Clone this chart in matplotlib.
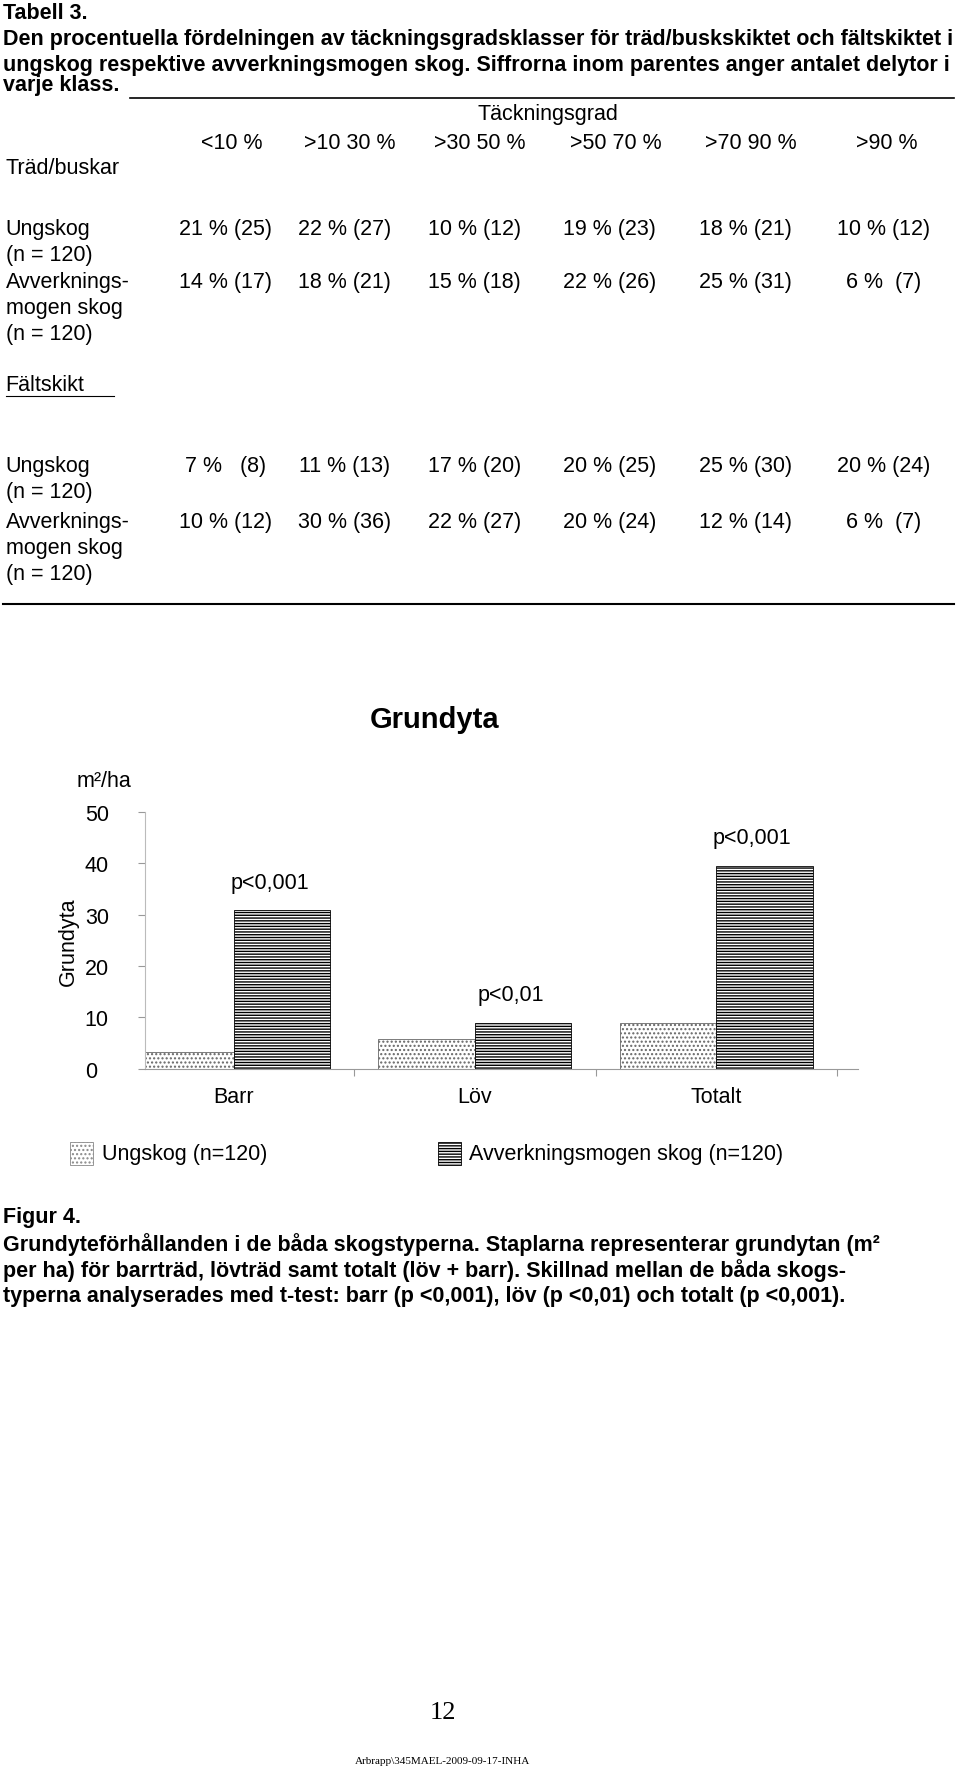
import matplotlib

matplotlib.use("Agg")
import matplotlib.pyplot as plt
import numpy as np
from matplotlib.patches import Rectangle

plt.rcParams["font.family"] = "Liberation Sans"
plt.rcParams["hatch.linewidth"] = 1.0

# data
categories = ["Barr", "Löv", "Totalt"]
ungskog = [3.2, 5.8, 8.9]
avverk = [30.8, 8.8, 39.5]
p_labels = ["p<0,001", "p<0,01", "p<0,001"]
yticks = [0, 10, 20, 30, 40, 50]

col_heads = ["<10 %", ">10 30 %", ">30 50 %", ">50 70 %", ">70 90 %", ">90 %"]
trad_ung = ["21 % (25)", "22 % (27)", "10 % (12)", "19 % (23)", "18 % (21)", "10 % (12)"]
trad_avv = ["14 % (17)", "18 % (21)", "15 % (18)", "22 % (26)", "25 % (31)", "6 %  (7)"]
falt_ung = ["7 %   (8)", "11 % (13)", "17 % (20)", "20 % (25)", "25 % (30)", "20 % (24)"]
falt_avv = ["10 % (12)", "30 % (36)", "22 % (27)", "20 % (24)", "12 % (14)", "6 %  (7)"]

W, H = 850.0, 1569.0
FS = 15.5
fig = plt.figure(figsize=(9.6, 17.74), dpi=100)


def X(x):
    return x / W


def Y(y):
    return 1 - y / H


def txt(x, y, s, **kw):
    kw.setdefault("fontsize", FS)
    kw.setdefault("va", "center")
    fig.text(X(x), Y(y), s, **kw)


def hline(x0, x1, y, lw=1.2):
    fig.add_artist(plt.Line2D([X(x0), X(x1)], [Y(y), Y(y)], color="black", lw=lw))


txt(3, 12, "Tabell 3.", weight="bold")
txt(3, 35, "Den procentuella fördelningen av täckningsgradsklasser för träd/buskskiktet och fältskiktet i", weight="bold")
txt(3, 58, "ungskog respektive avverkningsmogen skog. Siffrorna inom parentes anger antalet delytor i", weight="bold")
txt(3, 76, "varje klass.", weight="bold")
hline(115, 845, 88)
txt(485, 101, "Täckningsgrad", ha="center")
col_x = [205, 310, 425, 545, 665, 785]
for cx, h in zip(col_x, col_heads):
    txt(cx, 127, h, ha="center")
txt(5, 149, "Träd/buskar")
txt(5, 203, "Ungskog")
txt(5, 226, "(n = 120)")
txt(5, 250, "Avverknings-")
txt(5, 273, "mogen skog")
txt(5, 296, "(n = 120)")
val_x = [200, 305, 420, 540, 660, 782]
for cx, a, b in zip(val_x, trad_ung, trad_avv):
    txt(cx, 203, a, ha="center")
    txt(cx, 250, b, ha="center")
txt(5, 341, "Fältskikt")
hline(5, 101, 351, lw=0.8)
txt(5, 413, "Ungskog")
txt(5, 436, "(n = 120)")
txt(5, 462, "Avverknings-")
txt(5, 485, "mogen skog")
txt(5, 508, "(n = 120)")
for cx, a, b in zip(val_x, falt_ung, falt_avv):
    txt(cx, 413, a, ha="center")
    txt(cx, 462, b, ha="center")
hline(3, 845, 535, lw=1.5)

# chart
txt(385, 637, "Grundyta", ha="center", fontsize=21, weight="bold")
txt(92, 691, "m²/ha", ha="center")
ax = fig.add_axes([X(128), Y(946), X(760) - X(128), Y(719) - Y(946)])
x = np.arange(len(categories))
w = 0.4
ax.bar(x - w / 2, ungskog, w, facecolor="white", edgecolor="#666666", hatch="....", lw=0.6)
ax.bar(x + w / 2, avverk, w, facecolor="white", edgecolor="black", hatch="------", lw=0.6)
for xi, v, p in zip(x, avverk, p_labels):
    ax.text(xi + w / 2 - 0.05, v + 3.5, p, ha="center", va="bottom", fontsize=FS)
ax.set_xlim(-0.37, 2.59)
ax.set_ylim(0, 50)
ax.set_yticks(yticks)
ax.set_yticklabels([str(t) for t in yticks], fontsize=FS)
ax.set_xticks([0.5, 1.5, 2.5])
ax.set_xticklabels([])
ax.tick_params(axis="x", length=5, color="#999999")
ax.tick_params(axis="y", length=5, color="#999999", pad=38)
for lbl in ax.get_yticklabels():
    lbl.set_horizontalalignment("left")
for xi, c in zip(x, categories):
    ax.text(xi, -5.5, c, ha="center", va="center", fontsize=FS)
for s in ["top", "right"]:
    ax.spines[s].set_visible(False)
ax.spines["left"].set_color("#bbbbbb")
ax.spines["bottom"].set_color("#999999")
ax.set_ylabel("Grundyta", fontsize=FS, labelpad=4)

fig.add_artist(Rectangle((X(62), Y(1031)), X(20), Y(1011) - Y(1031), facecolor="white",
                         edgecolor="#888888", hatch="....", lw=0.6))
txt(90, 1021, "Ungskog (n=120)")
fig.add_artist(Rectangle((X(388), Y(1031)), X(20), Y(1011) - Y(1031), facecolor="white",
                         edgecolor="black", hatch="------", lw=0.6))
txt(415, 1021, "Avverkningsmogen skog (n=120)")

txt(3, 1077, "Figur 4.", weight="bold")
txt(3, 1101, "Grundyteförhållanden i de båda skogstyperna. Staplarna representerar grundytan (m² ", weight="bold")
txt(3, 1124, "per ha) för barrträd, lövträd samt totalt (löv + barr). Skillnad mellan de båda skogs-", weight="bold")
txt(3, 1147, "typerna analyserades med t-test: barr (p <0,001), löv (p <0,01) och totalt (p <0,001).", weight="bold")

txt(392, 1515, "12", ha="center", fontsize=19, family="Liberation Serif")
txt(392, 1558, "Arbrapp\\345MAEL-2009-09-17-INHA", ha="center", fontsize=8, family="Liberation Serif")

fig.savefig("out.png", dpi=100)
